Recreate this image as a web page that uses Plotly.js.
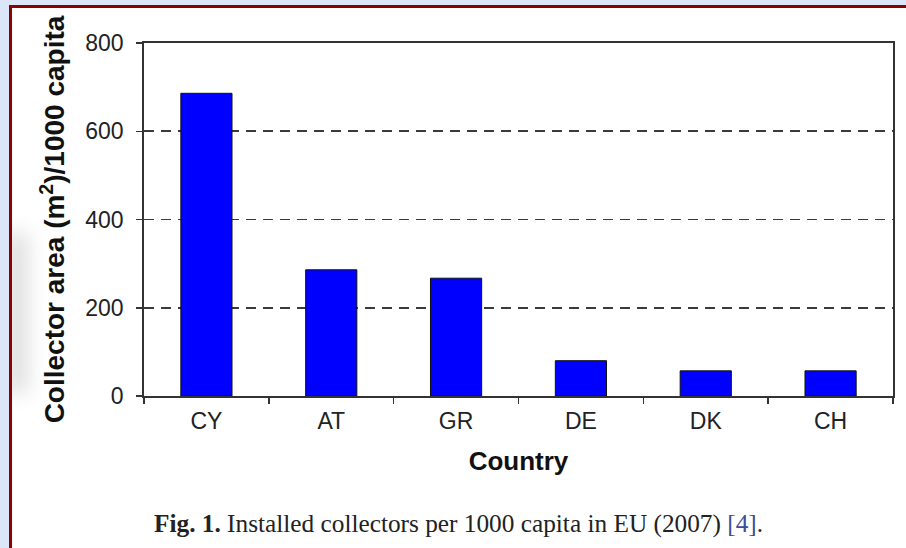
<!DOCTYPE html>
<html>
<head>
<meta charset="utf-8">
<script src="https://cdn.plot.ly/plotly-3.0.1.min.js"></script>
<style>
  html, body { margin: 0; padding: 0; background: #dbe6f8; width: 906px; height: 548px; overflow: hidden; }
  #frame { position: absolute; left: 9px; top: 5px; width: 897px; height: 543px;
           border-top: 3px solid #8b0000; border-left: 3px solid #8b0000; background: #ffffff; overflow: hidden; }
  #smudge { position: absolute; left: -8px; top: 225px; width: 24px; height: 160px;
            background: #c4c4c4; filter: blur(10px); opacity: 0.55; }
  #chart { position: absolute; left: 0; top: 0; width: 894px; height: 540px; }
</style>
</head>
<body>
<div id="frame"><div id="smudge"></div><div id="chart"></div></div>
<script>
const countries = ["CY", "AT", "GR", "DE", "DK", "CH"];
const collectorArea = [686, 286, 267, 80, 57, 57];
const yTicks = [0, 200, 400, 600, 800];
const yTitle = "Collector area (m<sup>2</sup>)/1000 capita";
const xTitle = "Country";
const caption = "<b>Fig. 1.</b> Installed collectors per 1000 capita in EU (2007) <span style='color:#3b4d9c'>[4]</span>.";

const trace = {
  type: "bar",
  x: countries,
  y: collectorArea,
  marker: { color: "#0000ff", line: { color: "#111111", width: 1 } },
  hoverinfo: "x+y"
};

const layout = {
  width: 894, height: 540,
  margin: { l: 132, r: 13, t: 35, b: 152 },
  paper_bgcolor: "rgba(0,0,0,0)",
  plot_bgcolor: "#ffffff",
  bargap: 0.59,
  showlegend: false,
  font: { family: "Liberation Sans, Arial, sans-serif", color: "#222222" },
  xaxis: {
    type: "category",
    tickson: "boundaries",
    ticks: "outside", ticklen: 6, tickwidth: 1.5, tickcolor: "#333333",
    ticklabelstandoff: 4,
    tickfont: { size: 23, color: "#222222" },
    showline: true, linecolor: "#333333", linewidth: 1.8, mirror: true,
    showgrid: false,
    title: { text: xTitle, font: { size: 26, color: "#111111", family: "Liberation Sans, Arial, sans-serif", weight: "bold" }, standoff: 18 },
    automargin: false
  },
  yaxis: {
    range: [0, 800],
    tickvals: yTicks,
    ticks: "outside", ticklen: 6, tickwidth: 1.5, tickcolor: "#333333",
    ticklabelstandoff: 8,
    tickfont: { size: 23, color: "#222222" },
    showline: true, linecolor: "#333333", linewidth: 1.8, mirror: true,
    showgrid: true, gridcolor: "#3a3a3a", gridwidth: 1.8, griddash: "10px,7px",
    zeroline: false,
    title: { text: yTitle, font: { size: 28, color: "#111111", family: "Liberation Sans, Arial, sans-serif", weight: "bold" }, standoff: 12 },
    automargin: false
  },
  annotations: [{
    xref: "paper", yref: "paper",
    x: 0.5, y: -0.36,
    xanchor: "center", yanchor: "middle",
    xshift: -60,
    showarrow: false,
    text: caption,
    font: { family: "Liberation Serif, Times New Roman, serif", size: 25.3, color: "#222222" }
  }]
};

Plotly.newPlot("chart", [trace], layout, { displayModeBar: false, staticPlot: true });
</script>
</body>
</html>
